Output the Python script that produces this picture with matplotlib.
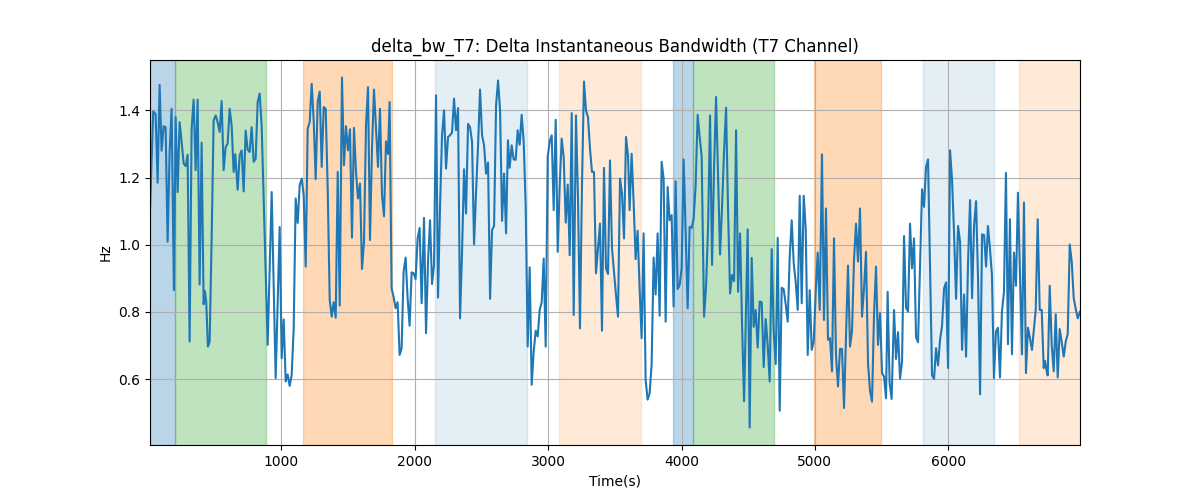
import matplotlib
matplotlib.use("Agg")
import matplotlib.pyplot as plt

# time (s) and delta bandwidth (Hz)
time_s = [
    16, 40, 58, 73, 88, 103, 118, 133, 148, 163, 178, 195, 208, 223, 238, 253, 268, 283, 298, 313,
    328, 343, 358, 373, 388, 403, 418, 428, 438, 450, 463, 478, 493, 508, 523, 538, 553, 568, 583, 598,
    613, 628, 643, 655, 673, 688, 703, 718, 733, 748, 763, 778, 793, 808, 823, 838, 853, 868, 883, 898,
    928, 958, 988, 1003, 1018, 1033, 1048, 1063, 1078, 1093, 1108, 1123, 1138, 1153, 1168, 1183, 1198, 1213, 1228, 1243,
    1258, 1273, 1288, 1303, 1318, 1333, 1348, 1363, 1378, 1393, 1408, 1423, 1438, 1455, 1470, 1485, 1500, 1515, 1530, 1545,
    1560, 1575, 1590, 1605, 1620, 1635, 1650, 1665, 1680, 1695, 1710, 1725, 1740, 1755, 1770, 1785, 1800, 1812, 1827, 1842,
    1857, 1872, 1887, 1902, 1917, 1932, 1947, 1962, 1977, 1992, 2007, 2022, 2037, 2052, 2070, 2085, 2100, 2115, 2130, 2145,
    2160, 2175, 2190, 2205, 2220, 2235, 2250, 2265, 2280, 2295, 2310, 2325, 2340, 2355, 2370, 2385, 2400, 2415, 2430, 2445,
    2460, 2475, 2490, 2505, 2520, 2535, 2550, 2565, 2580, 2595, 2610, 2625, 2640, 2655, 2670, 2685, 2699, 2712, 2727, 2742,
    2757, 2772, 2787, 2802, 2817, 2832, 2847, 2862, 2877, 2892, 2907, 2922, 2937, 2952, 2967, 2982, 2997, 3012, 3027, 3042,
    3057, 3072, 3087, 3102, 3117, 3132, 3147, 3162, 3177, 3192, 3209, 3224, 3239, 3254, 3269, 3284, 3299, 3314, 3329, 3344,
    3359, 3374, 3389, 3404, 3419, 3434, 3449, 3464, 3479, 3494, 3509, 3524, 3539, 3554, 3569, 3584, 3599, 3611, 3626, 3641,
    3656, 3671, 3686, 3701, 3716, 3731, 3746, 3761, 3776, 3791, 3806, 3821, 3836, 3851, 3866, 3881, 3896, 3911, 3926, 3941,
    3956, 3971, 3986, 4001, 4016, 4031, 4046, 4061, 4076, 4091, 4106, 4121, 4136, 4151, 4169, 4184, 4199, 4214, 4229, 4244,
    4259, 4274, 4289, 4304, 4319, 4334, 4349, 4364, 4379, 4394, 4409, 4424, 4439, 4454, 4469, 4484, 4496, 4511, 4526, 4541,
    4556, 4571, 4586, 4601, 4616, 4631, 4646, 4661, 4676, 4691, 4706, 4721, 4736, 4751, 4766, 4781, 4796, 4811, 4826, 4841,
    4856, 4871, 4886, 4901, 4916, 4931, 4946, 4961, 4976, 4991, 5006, 5021, 5036, 5053, 5068, 5083, 5098, 5113, 5128, 5143,
    5158, 5173, 5188, 5203, 5218, 5233, 5248, 5263, 5278, 5293, 5308, 5323, 5338, 5353, 5368, 5383, 5398, 5413, 5428, 5443,
    5458, 5473, 5488, 5503, 5518, 5533, 5545, 5560, 5575, 5593, 5608, 5623, 5638, 5653, 5668, 5683, 5698, 5713, 5728, 5743,
    5758, 5773, 5788, 5803, 5818, 5833, 5848, 5863, 5878, 5893, 5908, 5923, 5938, 5953, 5968, 5983, 5998, 6013, 6028, 6043,
    6058, 6073, 6088, 6103, 6118, 6133, 6148, 6163, 6178, 6193, 6208, 6223, 6238, 6253, 6268, 6283, 6297, 6312, 6327, 6342,
    6357, 6372, 6387, 6402, 6417, 6432, 6447, 6462, 6477, 6492, 6507, 6522, 6537, 6552, 6567, 6582, 6597, 6612, 6627, 6642,
    6655, 6670, 6685, 6700, 6715, 6725, 6735, 6745, 6760, 6775, 6790, 6805, 6820, 6835, 6850, 6865, 6880, 6895, 6910, 6925,
    6940, 6955, 6970, 6987,
]
delta_bw = [
    1.103, 1.397, 1.39, 1.185, 1.476, 1.28, 1.353, 1.35, 1.009, 1.276, 1.405, 0.865, 1.38, 1.157, 1.365, 1.306, 1.242, 1.234, 1.268, 0.712,
    1.346, 1.432, 1.222, 1.432, 0.882, 1.304, 0.823, 0.862, 0.826, 0.697, 0.712, 1.019, 1.37, 1.385, 1.365, 1.336, 1.428, 1.222, 1.291, 1.301,
    1.405, 1.355, 1.217, 1.27, 1.164, 1.266, 1.281, 1.159, 1.34, 1.283, 1.276, 1.35, 1.247, 1.256, 1.425, 1.45, 1.355, 1.14, 0.92, 0.702,
    1.157, 0.603, 1.053, 0.662, 0.778, 0.593, 0.614, 0.58, 0.613, 0.751, 1.138, 1.065, 1.177, 1.197, 1.148, 0.935, 1.346, 1.365, 1.479, 1.37,
    1.195, 1.425, 1.456, 1.232, 1.41, 1.405, 1.167, 0.836, 0.786, 0.829, 0.783, 1.217, 0.819, 1.498, 1.237, 1.353, 1.281, 1.344, 1.021, 1.348,
    1.217, 1.138, 1.182, 0.928, 1.009, 1.355, 1.469, 1.014, 1.286, 1.462, 1.346, 1.232, 1.405, 1.148, 1.085, 1.308, 1.27, 1.425, 0.87, 0.845,
    0.811, 0.829, 0.672, 0.692, 0.92, 0.962, 0.841, 0.759, 0.918, 0.915, 0.898, 1.019, 1.05, 0.826, 1.08, 0.737, 0.95, 1.073, 0.883, 0.94,
    1.445, 0.843, 1.113, 1.326, 1.40, 1.227, 1.321, 1.326, 1.334, 1.435, 1.341, 1.407, 0.781, 0.979, 1.225, 1.093, 1.36, 1.35, 1.306, 1.001,
    1.157, 1.296, 1.462, 1.326, 1.296, 1.212, 1.245, 0.839, 1.044, 1.056, 1.415, 1.489, 1.40, 1.071, 1.212, 1.034, 1.311, 1.229, 1.296, 1.254,
    1.253, 1.341, 1.298, 1.387, 1.306, 1.118, 0.697, 0.933, 0.583, 0.682, 0.744, 0.727, 0.806, 0.829, 0.959, 0.697, 1.261, 1.308, 1.326, 1.103,
    1.372, 0.979, 1.179, 1.316, 1.261, 1.066, 1.179, 0.969, 1.392, 0.791, 1.385, 1.143, 0.751, 1.177, 1.486, 1.40, 1.38, 1.286, 1.217, 1.217,
    0.915, 0.991, 1.063, 0.744, 1.229, 0.93, 0.913, 1.251, 0.989, 0.92, 0.85, 0.786, 1.197, 1.152, 1.019, 1.321, 1.266, 1.103, 1.271, 1.128,
    0.957, 1.042, 0.87, 0.722, 1.034, 0.598, 0.539, 0.558, 0.643, 0.962, 0.852, 1.034, 0.789, 1.247, 1.197, 0.771, 1.172, 1.073, 1.088, 0.816,
    1.189, 0.868, 0.88, 0.93, 1.254, 1.039, 0.811, 1.053, 1.05, 1.078, 1.177, 1.387, 1.321, 1.264, 0.786, 0.875, 1.049, 1.385, 0.94, 1.229,
    1.44, 1.207, 0.971, 1.113, 1.278, 1.408, 1.103, 0.855, 0.91, 0.892, 1.341, 0.86, 1.034, 0.761, 0.534, 0.811, 1.046, 0.456, 0.961, 0.756,
    0.806, 0.694, 0.831, 0.829, 0.636, 0.779, 0.702, 0.593, 0.987, 0.742, 0.645, 1.021, 0.506, 0.872, 0.868, 0.823, 0.771, 0.964, 1.073, 0.945,
    0.89, 0.806, 1.146, 0.826, 1.146, 1.049, 0.672, 0.865, 0.687, 0.712, 0.86, 0.977, 0.806, 1.269, 0.776, 1.108, 0.717, 0.722, 0.623, 1.019,
    0.672, 0.578, 0.69, 0.69, 0.514, 0.732, 0.938, 0.697, 0.742, 0.954, 1.063, 0.95, 1.108, 0.786, 0.87, 0.979, 0.648, 0.565, 0.533, 0.791,
    0.935, 0.702, 0.796, 0.618, 0.608, 0.543, 0.86, 0.588, 0.541, 0.806, 0.66, 0.74, 0.601, 0.652, 1.026, 0.813, 0.801, 1.063, 0.93, 1.019,
    0.724, 0.71, 0.94, 1.165, 1.113, 1.232, 1.254, 0.93, 0.611, 0.601, 0.692, 0.641, 0.717, 0.759, 0.87, 0.888, 0.633, 1.281, 1.192, 1.034,
    0.839, 1.056, 1.009, 0.687, 0.852, 0.667, 0.95, 1.133, 0.841, 1.058, 1.13, 0.895, 0.555, 1.031, 1.029, 0.935, 1.056, 0.989, 0.91, 0.603,
    0.742, 0.753, 0.605, 0.801, 0.86, 1.214, 0.704, 1.076, 0.674, 0.977, 0.878, 1.155, 0.92, 0.674, 1.126, 0.618, 0.753, 0.722, 0.687, 0.751,
    0.806, 1.076, 0.806, 0.806, 0.633, 0.654, 0.628, 0.611, 0.878, 0.702, 0.623, 0.793, 0.605, 0.749, 0.71, 0.667, 0.712, 0.734, 1.001, 0.95,
    0.841, 0.809, 0.781, 0.801,
]

# shaded segments (start, end in seconds)
span_start = [16, 203, 1165, 2152, 3082, 3939, 4089, 4996, 5813, 6530]
span_end = [203, 883, 1832, 2839, 3694, 4089, 4691, 5493, 6345, 6987]
span_color = ["tab:blue", "tab:green", "tab:orange", "tab:blue", "tab:orange",
              "tab:blue", "tab:green", "tab:orange", "tab:blue", "tab:orange"]
span_alpha = [0.3, 0.3, 0.3, 0.12, 0.16, 0.3, 0.3, 0.3, 0.12, 0.16]

fig, ax = plt.subplots(figsize=(12, 5), dpi=100)

for s, e, c, a in zip(span_start, span_end, span_color, span_alpha):
    ax.axvspan(s, e, color=c, alpha=a)

ax.plot(time_s, delta_bw, color="tab:blue", linewidth=1.5)

ax.set_xlim(time_s[0], time_s[-1])
ax.set_title("delta_bw_T7: Delta Instantaneous Bandwidth (T7 Channel)")
ax.set_xlabel("Time(s)")
ax.set_ylabel("Hz")
ax.grid(True)

fig.savefig("out.png")
